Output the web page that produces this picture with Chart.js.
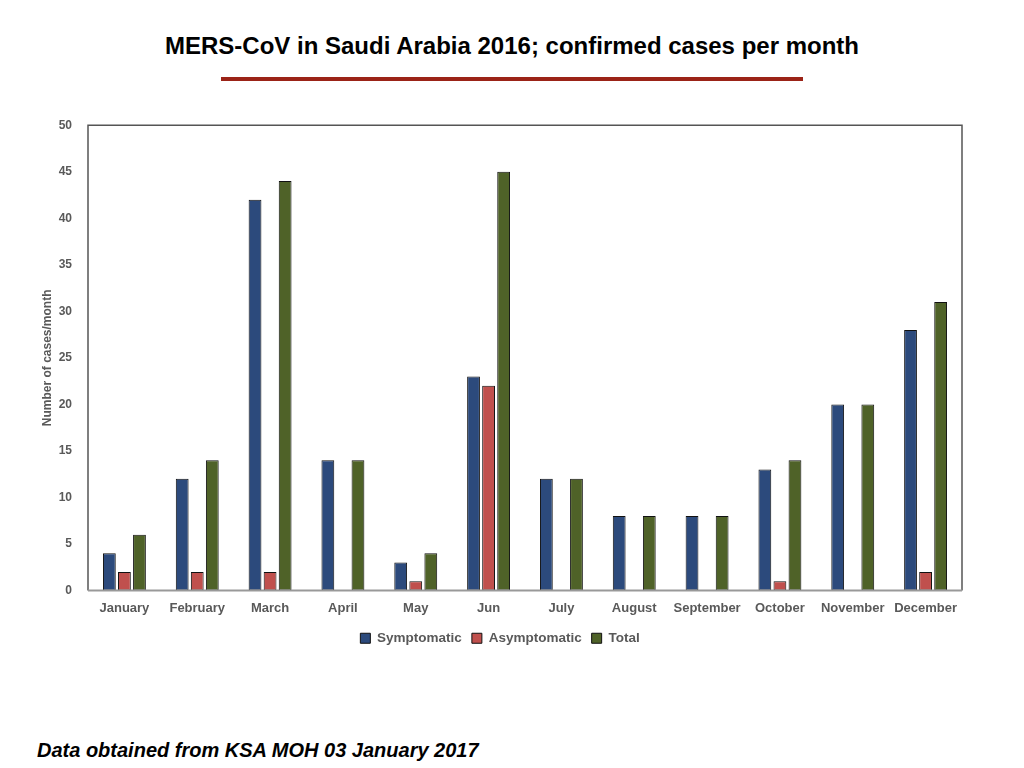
<!DOCTYPE html>
<html>
<head>
<meta charset="utf-8">
<script src="https://cdn.jsdelivr.net/npm/chart.js@4/dist/chart.umd.min.js"></script>
<style>
  body { margin: 0; background: #fff; font-family: "Liberation Sans", Arial, sans-serif; }
  #page { position: relative; width: 1024px; height: 768px; overflow: hidden; }
  #title { position: absolute; top: 32px; left: 0; width: 1024px; text-align: center;
           font-weight: bold; font-size: 24px; color: #000; }
  #rule { position: absolute; top: 77px; left: 221px; width: 582px; height: 4px; background: #9b2317; }
  #box { position: absolute; left: 0; top: 110px; width: 1024px; height: 560px; }
  #foot { position: absolute; left: 37px; top: 739px; font-weight: bold; font-style: italic;
          font-size: 20px; color: #000; }
</style>
</head>
<body>
<div id="page">
  <div id="title">MERS-CoV in Saudi Arabia 2016; confirmed cases per month</div>
  <div id="rule"></div>
  <div id="box"><canvas id="mers"></canvas></div>
  <div id="foot">Data obtained from KSA MOH 03 January 2017</div>
</div>
<script>
// maanden en aantallen
const months = ['January', 'February', 'March', 'April', 'May', 'Jun', 'July',
                'August', 'September', 'October', 'November', 'December'];
const symptomatic  = [4, 12, 42, 14, 3, 23, 12, 8, 8, 13, 20, 28];
const asymptomatic = [2, 2, 2, 0, 1, 22, 0, 0, 0, 1, 0, 2];
const total        = [6, 14, 44, 14, 4, 45, 12, 8, 8, 14, 20, 31];

const textGrey = '#595959';

// kader rond het plotgebied (boven, links, rechts donker; onderas grijs)
const frame = {
    id: 'frame',
    afterDatasetsDraw(chart) {
        const a = chart.chartArea;
        const ctx = chart.ctx;
        ctx.save();
        ctx.lineWidth = 1.5;
        ctx.strokeStyle = '#555';
        ctx.beginPath();
        ctx.moveTo(a.left, a.bottom);
        ctx.lineTo(a.left, a.top);
        ctx.lineTo(a.right, a.top);
        ctx.lineTo(a.right, a.bottom);
        ctx.stroke();
        ctx.strokeStyle = '#999';
        ctx.lineWidth = 2;
        ctx.beginPath();
        ctx.moveTo(a.left, a.bottom);
        ctx.lineTo(a.right, a.bottom);
        ctx.stroke();
        ctx.restore();
    }
};

function makeSet(label, data, color) {
    return {
        label: label,
        data: data,
        backgroundColor: color,
        borderColor: '#111',
        borderWidth: c => (c.raw ? 1 : 0),
        borderSkipped: false,
        categoryPercentage: 0.62,
        barPercentage: 0.85
    };
}

const ctx = document.getElementById('mers').getContext('2d');
const mersChart = new Chart(ctx, {
    type: 'bar',
    data: {
        labels: months,
        datasets: [
            makeSet('Symptomatic', symptomatic, '#2c4a7c'),
            makeSet('Asymptomatic', asymptomatic, '#c0504d'),
            makeSet('Total', total, '#4f6228')
        ]
    },
    plugins: [frame],
    options: {
        responsive: true,
        maintainAspectRatio: false,
        animation: false,
        layout: { padding: { left: 38, right: 62, top: 14, bottom: 15 } },
        plugins: {
            legend: {
                position: 'bottom',
                labels: {
                    boxWidth: 10,
                    boxHeight: 10,
                    padding: 10,
                    color: textGrey,
                    font: { family: 'Liberation Sans', size: 13.5, weight: 'bold' },
                    generateLabels(chart) {
                        return chart.data.datasets.map((d, i) => ({
                            text: d.label,
                            fillStyle: d.backgroundColor,
                            strokeStyle: '#111',
                            lineWidth: 1,
                            fontColor: textGrey,
                            datasetIndex: i
                        }));
                    }
                }
            },
            tooltip: { enabled: false }
        },
        scales: {
            x: {
                grid: { display: false },
                border: { display: false },
                ticks: {
                    color: textGrey,
                    padding: 2,
                    maxRotation: 0,
                    minRotation: 0,
                    autoSkip: false,
                    font: { family: 'Liberation Sans', size: 13, weight: 'bold' }
                },
                afterFit(scale) { scale.height = 31; }
            },
            y: {
                min: 0,
                max: 50,
                grid: { display: false },
                border: { display: false },
                ticks: {
                    stepSize: 5,
                    color: textGrey,
                    padding: 8,
                    font: { family: 'Liberation Sans', size: 12, weight: 'bold' }
                },
                title: {
                    display: true,
                    text: 'Number of cases/month',
                    color: textGrey,
                    padding: 2,
                    font: { family: 'Liberation Sans', size: 12, weight: 'bold' }
                },
                afterFit(scale) { scale.width = 50; }
            }
        }
    }
});
</script>
</body>
</html>
